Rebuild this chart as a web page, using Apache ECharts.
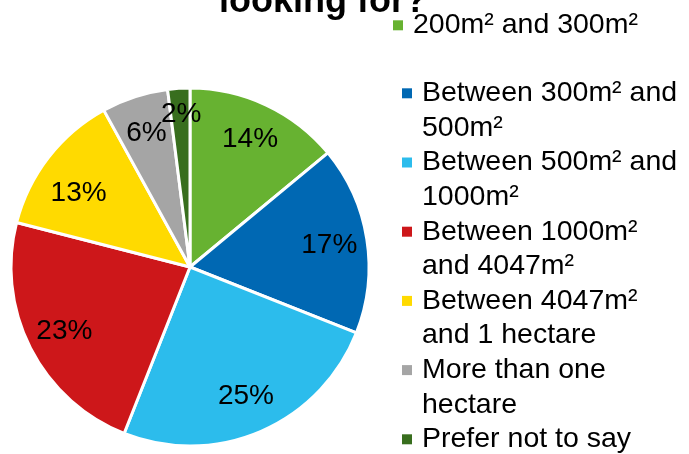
<!DOCTYPE html>
<html>
<head>
<meta charset="utf-8">
<script src="https://cdn.jsdelivr.net/npm/echarts@6/dist/echarts.min.js"></script>
<style>
  html, body { margin: 0; padding: 0; background: #fff; }
  #chart { width: 689px; height: 454px; }
</style>
</head>
<body>
<div id="chart"></div>
<script>
// data
const categories = [
  '200m² and 300m²',
  'Between 300m² and\n500m²',
  'Between 500m² and\n1000m²',
  'Between 1000m²\nand 4047m²',
  'Between 4047m²\nand 1 hectare',
  'More than one\nhectare',
  'Prefer not to say'
];
const values = [14, 17, 25, 23, 13, 6, 2];
const colors = ['#67B231', '#0068B3', '#2CBCEC', '#CD171A', '#FFDA00', '#A5A5A5', '#386E1E'];

const font = 'Liberation Sans, Arial, sans-serif';
const chart = echarts.init(document.getElementById('chart'));

const pieData = categories.map((name, i) => ({ name: name, value: values[i] }));

// a couple of labels sit off-centre in the original: nudge them with a blank line
const labelNudge = {
  4: { formatter: '\n{c}%', lineHeight: 26 },
  6: { formatter: '{c}%\n ', lineHeight: 24 }
};
const labelData = pieData.map((d, i) =>
  labelNudge[i] ? Object.assign({}, d, { label: labelNudge[i] }) : d
);

// rich styles: square marker drawn in front of the first line
const rich = {
  t: { fontSize: 28.5, lineHeight: 34.6, padding: [0, 0, 0, 10], color: '#000', fontFamily: font },
  p: { width: 10, height: 10, lineHeight: 34.6 }
};
colors.forEach((c, i) => {
  rich['m' + i] = { width: 10, height: 10, lineHeight: 34.6, backgroundColor: c };
});

function legendText(name) {
  const i = categories.indexOf(name);
  const lines = name.split('\n');
  let s = '{m' + i + '|}{t|' + lines[0] + '}';
  if (lines[1]) s += '\n{p|}{t|' + lines[1] + '}';
  return s;
}

const legendBase = {
  orient: 'vertical',
  align: 'left',
  icon: 'none',
  itemWidth: 0,
  itemHeight: 10,
  itemGap: 0,
  padding: 0,
  selectedMode: false,
  formatter: legendText,
  textStyle: { fontSize: 28.5, lineHeight: 34.6, fontFamily: font, rich: rich }
};

const option = {
  backgroundColor: '#fff',
  animation: false,
  title: {
    text: 'looking for?',
    left: 219,
    top: -16,
    padding: 0,
    textStyle: { fontSize: 36, fontWeight: 'bold', color: '#000', fontFamily: font }
  },
  legend: [
    Object.assign({}, legendBase, { left: 388, top: 8, data: [categories[0]] }),
    Object.assign({}, legendBase, { left: 397, top: 76, data: categories.slice(1) })
  ],
  series: [
    {
      type: 'pie',
      center: [190, 267],
      radius: [0, 179],
      startAngle: 90,
      clockwise: true,
      silent: true,
      color: colors,
      itemStyle: { borderColor: '#fff', borderWidth: 3 },
      label: { show: false },
      labelLine: { show: false },
      data: pieData
    },
    {
      // transparent ring only used to place the percentage labels
      type: 'pie',
      center: [190, 267],
      radius: [97, 179],
      startAngle: 90,
      clockwise: true,
      silent: true,
      avoidLabelOverlap: false,
      itemStyle: { color: 'rgba(0,0,0,0)' },
      label: {
        show: true,
        position: 'inside',
        formatter: '{c}%',
        fontSize: 28,
        color: '#000',
        fontFamily: font
      },
      labelLayout: { hideOverlap: false },
      labelLine: { show: false },
      data: labelData
    }
  ]
};

chart.setOption(option);
</script>
</body>
</html>
